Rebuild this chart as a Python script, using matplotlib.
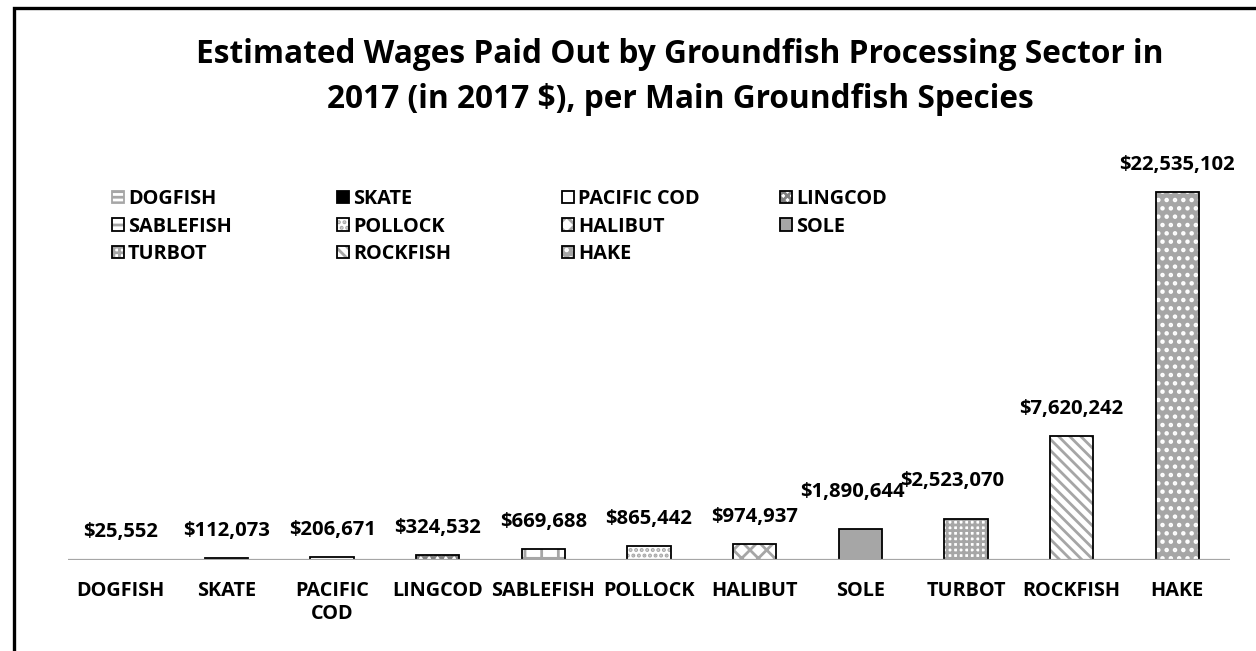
import matplotlib
matplotlib.use("Agg")
import matplotlib.pyplot as plt
from matplotlib.patches import Rectangle
from matplotlib.legend_handler import HandlerTuple

species = ["DOGFISH", "SKATE", "PACIFIC COD", "LINGCOD", "SABLEFISH", "POLLOCK",
           "HALIBUT", "SOLE", "TURBOT", "ROCKFISH", "HAKE"]
tick_labels = ["DOGFISH", "SKATE", "PACIFIC\nCOD", "LINGCOD", "SABLEFISH", "POLLOCK",
               "HALIBUT", "SOLE", "TURBOT", "ROCKFISH", "HAKE"]
wages = [25552, 112073, 206671, 324532, 669688, 865442,
         974937, 1890644, 2523070, 7620242, 22535102]

title = ("Estimated Wages Paid Out by Groundfish Processing Sector in\n"
         "2017 (in 2017 $), per Main Groundfish Species")

# face colour, hatch colour, hatch pattern
faces = ["white", "black", "white", "white", "white", "white",
         "white", "#a6a6a6", "white", "white", "#a6a6a6"]
hatch_colors = ["#a6a6a6", "black", "white", "#808080", "#a6a6a6", "#a6a6a6",
                "#a6a6a6", "#a6a6a6", "#a6a6a6", "#a6a6a6", "white"]
hatches = ["---", "", "", "xxxx", "+", "...", "xx", "", "+++", "\\\\\\", ".."]
edges = ["#a6a6a6"] + ["black"] * 10

# a couple of labels were dragged by hand in the original (points)
label_nudge = {"SOLE": (-6, 7), "TURBOT": (-10, 8)}

plt.rcParams["font.family"] = ["Open Sans", "DejaVu Sans"]
plt.rcParams["font.weight"] = "bold"
plt.rcParams["hatch.linewidth"] = 2.0

fig = plt.figure(figsize=(12.56, 6.51), dpi=100)
fig.patch.set_facecolor("white")
ax = fig.add_axes([68 / 1256, 91 / 651, 1162 / 1256, 408 / 651])

x = list(range(len(species)))
fill = ax.bar(x, wages, width=0.41, color=faces, edgecolor=hatch_colors,
              linewidth=0, zorder=2)
for patch, h in zip(fill, hatches):
    patch.set_hatch(h)
outline = ax.bar(x, wages, width=0.41, fill=False, edgecolor=edges,
                 linewidth=1.3, zorder=3)

ax.axhline(0, color="#a6a6a6", linewidth=1.6, zorder=4)

for i, v in enumerate(wages):
    dx, dy = label_nudge.get(species[i], (0, 0))
    ax.annotate(f"${v:,}", (i, v), xytext=(dx, 19.5 + dy),
                textcoords="offset points", ha="center", va="center",
                fontsize=14.6, fontweight="bold", color="black")

ax.set_xlim(-0.5, len(species) - 0.5)
ax.set_ylim(0, 25e6)
ax.set_xticks(x, tick_labels, fontsize=14.3, fontweight="bold")
ax.tick_params(axis="x", length=0, pad=15)
ax.set_yticks([])
for spine in ax.spines.values():
    spine.set_visible(False)

fig.text(680 / 1256, 1 - 77 / 651, title, ha="center", va="center",
         fontsize=22.8, fontweight="bold", linespacing=1.5)

# legend, filled row by row like the original
handles = [(f, o) for f, o in zip(fill, outline)]
col_x = [112, 337, 562, 780]
for c, cx in enumerate(col_x):
    idx = list(range(c, len(species), 4))
    leg = fig.legend([handles[i] for i in idx], [species[i] for i in idx],
                     handler_map={tuple: HandlerTuple(ndivide=1)},
                     loc="upper left", bbox_to_anchor=(cx / 1256, 1 - 189 / 651),
                     frameon=False, fontsize=14.3, handlelength=0.6,
                     handleheight=0.6, handletextpad=0.2, labelspacing=0.38,
                     borderpad=0, borderaxespad=0)
    for t in leg.get_texts():
        t.set_fontweight("bold")

# outer frame (right and bottom edges run off the picture)
fig.patches.append(Rectangle((14.5 / 1256, -0.2), 1.2, 1.2 - 7.7 / 651,
                             transform=fig.transFigure, fill=False,
                             edgecolor="black", linewidth=2.4))

fig.savefig("out.png", dpi=100, facecolor=fig.get_facecolor())
plt.close(fig)
